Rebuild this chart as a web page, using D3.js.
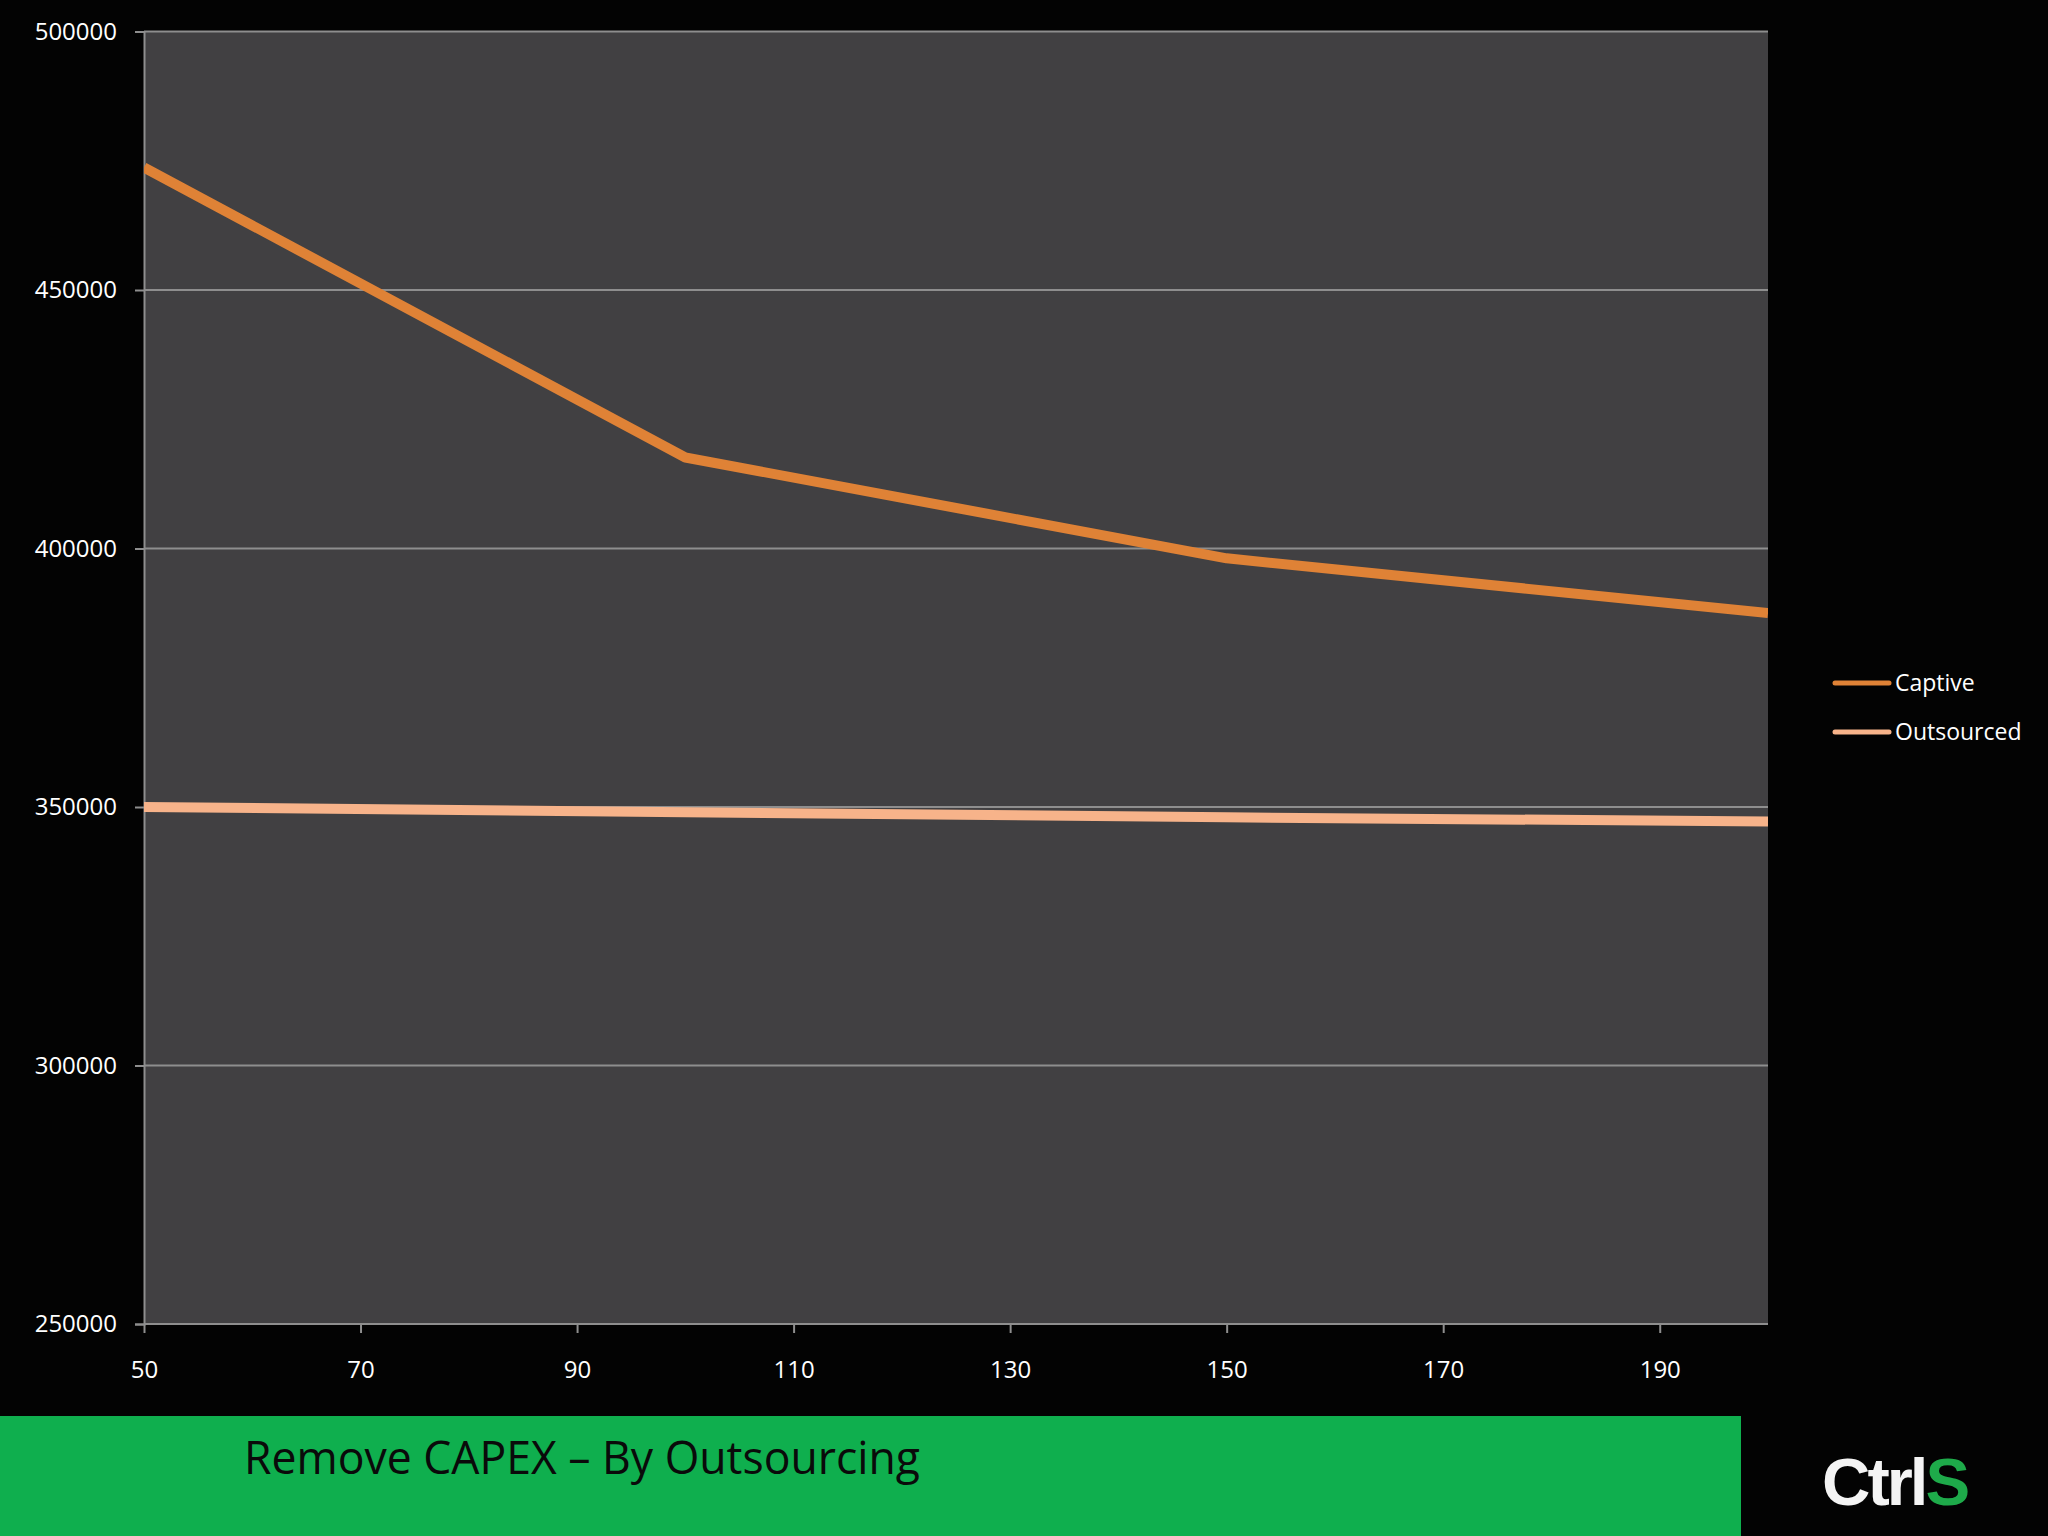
<!DOCTYPE html>
<html>
<head>
<meta charset="utf-8">
<script src="https://cdn.jsdelivr.net/npm/d3@7"></script>
<style>
  html, body { margin: 0; padding: 0; background: #030303; }
  svg { display: block; }
</style>
</head>
<body>
<svg id="chart" width="2048" height="1536"></svg>
<script>
// ---- data ----
const xValues = [50, 100, 150, 200];
const captive = [473700, 417600, 398100, 387500];
const outsourced = [350000, 349000, 348000, 347200];
const seriesNames = ["Captive", "Outsourced"];
const xTicks = [50, 70, 90, 110, 130, 150, 170, 190];
const yTicks = [250000, 300000, 350000, 400000, 450000, 500000];
const title = "Remove CAPEX \u2013 By Outsourcing";

// ---- layout ----
const W = 2048, H = 1536;
const plot = { left: 144, right: 1768, top: 31.5, bottom: 1324 };
const colors = { Captive: "#DF8236", Outsourced: "#F7B38A" };
const FONT = "'Open Sans', sans-serif";

const svg = d3.select("#chart");
svg.append("rect").attr("width", W).attr("height", H).attr("fill", "#030303");

const x = d3.scaleLinear().domain([50, 200]).range([plot.left, plot.right]);
const y = d3.scaleLinear().domain([250000, 500000]).range([plot.bottom, plot.top]);

// plot background
svg.append("rect")
  .attr("x", plot.left).attr("y", plot.top)
  .attr("width", plot.right - plot.left).attr("height", plot.bottom - plot.top)
  .attr("fill", "#414042");

// gridlines
svg.append("g").selectAll("line").data(yTicks.filter(d => d > 250000)).join("line")
  .attr("x1", plot.left).attr("x2", plot.right)
  .attr("y1", d => y(d)).attr("y2", d => y(d))
  .attr("stroke", "#8e8e8e").attr("stroke-width", 2);

// y axis
const yAxis = d3.axisLeft(y).tickValues(yTicks).tickFormat(d3.format("d")).tickSize(9).tickPadding(18);
const gy = svg.append("g").attr("transform", `translate(${plot.left},0)`).call(yAxis);
gy.attr("font-family", FONT);
gy.select(".domain").attr("stroke", "#8e8e8e").attr("stroke-width", 2);
gy.selectAll(".tick line").attr("stroke", "#8e8e8e").attr("stroke-width", 2);
gy.selectAll(".tick text").attr("fill", "#ffffff").attr("font-size", 24);

// x axis
const xAxis = d3.axisBottom(x).tickValues(xTicks).tickFormat(d3.format("d")).tickSize(9).tickPadding(28);
const gx = svg.append("g").attr("transform", `translate(0,${plot.bottom})`).call(xAxis);
gx.attr("font-family", FONT);
gx.select(".domain").attr("d", `M${plot.left},0H${plot.right}`).attr("stroke", "#8e8e8e").attr("stroke-width", 2);
gx.selectAll(".tick line").attr("stroke", "#8e8e8e").attr("stroke-width", 2);
gx.selectAll(".tick text").attr("fill", "#ffffff").attr("font-size", 24);

// clip
svg.append("clipPath").attr("id", "plotclip").append("rect")
  .attr("x", plot.left).attr("y", plot.top)
  .attr("width", plot.right - plot.left).attr("height", plot.bottom - plot.top);

const line = d3.line().x(d => x(d[0])).y(d => y(d[1]));
const series = [
  { name: "Captive", values: xValues.map((v, i) => [v, captive[i]]) },
  { name: "Outsourced", values: xValues.map((v, i) => [v, outsourced[i]]) }
];
svg.append("g").attr("clip-path", "url(#plotclip)")
  .selectAll("path").data(series.slice().reverse()).join("path")
  .attr("d", d => line(d.values))
  .attr("fill", "none")
  .attr("stroke", d => colors[d.name])
  .attr("stroke-width", 10)
  .attr("stroke-linejoin", "round");

// legend
const legend = svg.append("g").attr("font-family", FONT);
const legendY = [683, 732];
seriesNames.forEach((name, i) => {
  legend.append("line")
    .attr("x1", 1835).attr("x2", 1889)
    .attr("y1", legendY[i]).attr("y2", legendY[i])
    .attr("stroke", colors[name]).attr("stroke-width", 5).attr("stroke-linecap", "round");
  legend.append("text")
    .attr("x", 1895).attr("y", legendY[i]).attr("dy", "0.35em")
    .attr("fill", "#ffffff").attr("font-size", 23)
    .text(name);
});

// footer band
svg.append("rect").attr("x", 0).attr("y", 1416).attr("width", 1741).attr("height", H - 1416)
  .attr("fill", "#0FAF4E");
svg.append("text")
  .attr("x", 244).attr("y", 1474)
  .attr("font-family", FONT)
  .attr("fill", "#0a0a0a").attr("font-size", 45)
  .attr("textLength", 676).attr("lengthAdjust", "spacingAndGlyphs")
  .text(title);

// logo
const logo = svg.append("text")
  .attr("x", 1822).attr("y", 1505)
  .attr("font-family", "'Liberation Sans', Arial, sans-serif")
  .attr("font-weight", "bold").attr("font-size", 67)
  .attr("letter-spacing", -3);
logo.append("tspan").attr("fill", "#f4f4f4").text("Ctrl");
logo.append("tspan").attr("fill", "#1EAA4A").text("S");
</script>
</body>
</html>
